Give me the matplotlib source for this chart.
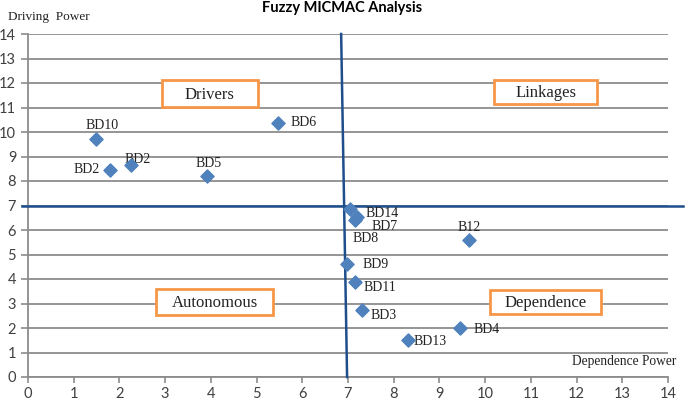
import matplotlib
matplotlib.use("Agg")
import matplotlib.pyplot as plt
from matplotlib.patches import Rectangle

# barrier points: (dependence, driving)
names = ["BD10", "BD2", "BD2", "BD5", "BD6", "BD14", "BD7", "BD8",
         "B12", "BD9", "BD11", "BD3", "BD4", "BD13"]
dependence = [1.49, 1.79, 2.25, 3.92, 5.47, 7.05, 7.2, 7.15,
              9.65, 6.98, 7.16, 7.31, 9.45, 8.32]
driving = [9.71, 8.45, 8.65, 8.2, 10.37, 6.86, 6.55, 6.4,
           5.6, 4.6, 3.87, 2.73, 2.0, 1.5]

# label offsets in points and alignment
label_pos = [(4, 10, "center"), (-7, 0, "right"), (5, 4, "center"),
             (1, 9, "center"), (9, 0, "left"), (11, -3, "left"),
             (10, -7, "left"), (-2, -13, "left"), (0, 9, "center"),
             (11, 0, "left"), (6, -4, "left"), (6, -4, "left"),
             (10, -1, "left"), (4, -1, "left")]

quadrants = ["Drivers", "Linkages", "Autonomous", "Dependence"]
quad_boxes = [(2.93, 11.02, 2.1, 1.1), (10.2, 11.14, 2.25, 0.98),
              (2.8, 2.53, 2.56, 1.06), (10.11, 2.57, 2.43, 0.98)]

serif = "Liberation Serif"
sans = "Lato"

fig = plt.figure(figsize=(6.85, 4.01), dpi=100)
ax = fig.add_axes([28 / 685, 24 / 401, 640 / 685, 343 / 401])

ax.set_xlim(0, 14)
ax.set_ylim(0, 14)
ax.set_xticks(range(15))
ax.set_yticks(range(15))
ax.grid(axis="y", color="#8c8c8c", linewidth=1.3)
ax.set_axisbelow(True)
for s in ["top", "right"]:
    ax.spines[s].set_visible(False)
for s in ["left", "bottom"]:
    ax.spines[s].set_color("#8c8c8c")
    ax.spines[s].set_linewidth(1.3)
ax.tick_params(axis="both", colors="#8c8c8c", labelcolor="#404040",
               length=5, width=1.2, labelsize=10.5)
ax.tick_params(axis="x", length=4)
for lab in ax.get_xticklabels() + ax.get_yticklabels():
    lab.set_fontfamily(sans)

# quadrant dividers
ax.plot([6.85, 6.98], [14, 0], color="#1f4e8c", linewidth=1.8, clip_on=False, zorder=3)
ax.plot([-0.13, 14.33], [7, 7], color="#1f4e8c", linewidth=1.8, clip_on=False, zorder=3)

ax.scatter(dependence, driving, marker="D", s=45, color="#4f81bd", zorder=4)
for n, x, y, (dx, dy, ha) in zip(names, dependence, driving, label_pos):
    ax.annotate(n, (x, y), xytext=(dx, dy), textcoords="offset points",
                ha=ha, va="center", fontsize=10, family=serif, color="#222222")

for q, (x0, y0, w, h) in zip(quadrants, quad_boxes):
    ax.add_patch(Rectangle((x0, y0), w, h, facecolor="white",
                           edgecolor="#f79646", linewidth=2, zorder=5))
    ax.text(x0 + w / 2, y0 + h / 2 - 0.05, q, ha="center", va="center",
            fontsize=12, family=serif, color="#222222", zorder=6)

fig.text(0.5, 1 - 8 / 401, "Fuzzy MICMAC Analysis", ha="center", va="center",
         fontsize=10.5, fontweight="bold", family=sans)
fig.text(8 / 685, 1 - 17 / 401, "Driving  Power", ha="left", va="center",
         fontsize=9.5, family=serif, color="#222222")
fig.text(676 / 685, 1 - 362 / 401, "Dependence Power", ha="right", va="center",
         fontsize=9.75, family=serif, color="#222222")

fig.savefig("out.png", dpi=100)
